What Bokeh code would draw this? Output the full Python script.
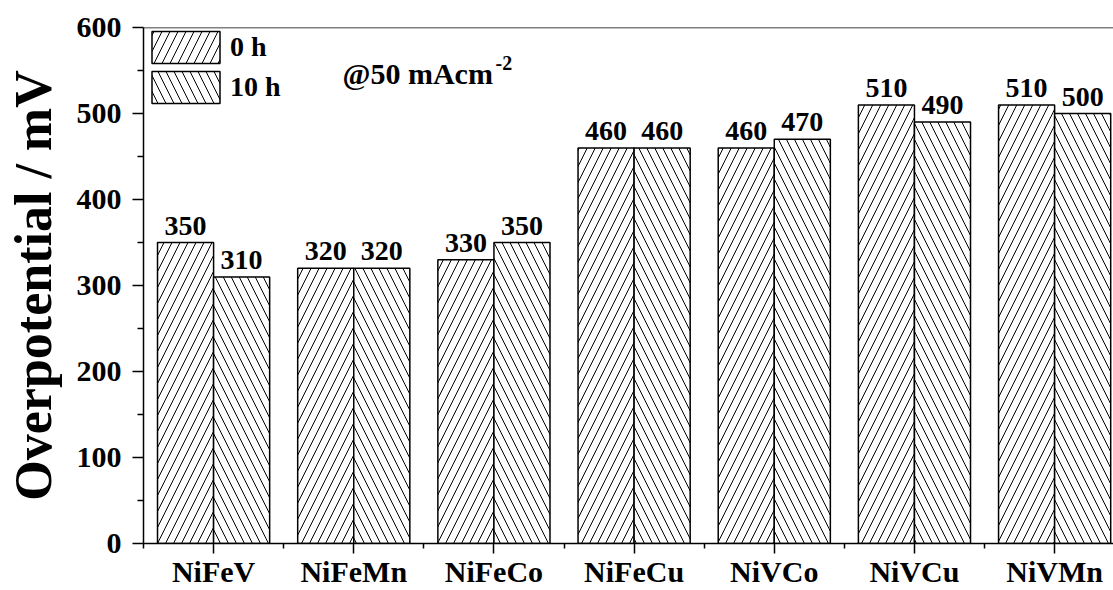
from bokeh.plotting import figure
from bokeh.models import Range1d, FixedTicker, Span, Label, Legend, LegendItem, ColumnDataSource
from bokeh.core.properties import value
from bokeh.embed import file_html
from bokeh.resources import INLINE

# ---- data ----
catalysts = ["NiFeV", "NiFeMn", "NiFeCo", "NiFeCu", "NiVCo", "NiVCu", "NiVMn"]
eta_0h = [350, 320, 330, 460, 460, 510, 510]
eta_10h = [310, 320, 350, 460, 470, 490, 500]
series_labels = ["0 h", "10 h"]
y_ticks = [0, 100, 200, 300, 400, 500, 600]
y_minor = [50, 150, 250, 350, 450, 550]
y_title = "Overpotential / mV"
note_main = "@50 mAcm"
note_sup = "-2"

FONT = "Liberation Serif"
idx = list(range(len(catalysts)))
BAR_W = 0.4

p = figure(width=1113, height=590, output_backend="svg", toolbar_location=None,
           x_range=Range1d(-0.5, 6.42), y_range=Range1d(0, 600),
           min_border_left=143, min_border_top=27, min_border_right=0, min_border_bottom=47)
p.outline_line_color = None
p.xgrid.visible = False
p.ygrid.visible = False
p.background_fill_color = "white"
p.border_fill_color = "white"

src0 = ColumnDataSource(dict(x=[i - BAR_W / 2 for i in idx], top=eta_0h, label=[str(v) for v in eta_0h]))
src1 = ColumnDataSource(dict(x=[i + BAR_W / 2 for i in idx], top=eta_10h, label=[str(v) for v in eta_10h]))

common = dict(width=BAR_W, bottom=0, fill_color="white", line_color="black", line_width=1.5,
              hatch_color="black", hatch_scale=16, hatch_weight=1)
r0 = p.vbar(x="x", top="top", source=src0, hatch_pattern="/", **common)
r1 = p.vbar(x="x", top="top", source=src1, hatch_pattern="\\", **common)

for src in (src0, src1):
    p.text(x="x", y="top", text="label", source=src, text_align="center",
           text_baseline="bottom", y_offset=-8, text_font=value(FONT),
           text_font_style="bold", text_font_size="28px", text_color="black")

# top border
p.add_layout(Span(location=600, dimension="width", line_color="black", line_width=1.5))

# legend
legend = Legend(items=[LegendItem(label=series_labels[0], renderers=[r0]),
                       LegendItem(label=series_labels[1], renderers=[r1])],
                location="top_left", margin=0, padding=3, spacing=0,
                glyph_width=85, glyph_height=40, label_standoff=2,
                label_text_font=FONT, label_text_font_style="bold",
                label_text_font_size="28px", label_text_color="black",
                border_line_color=None, background_fill_alpha=0)
p.add_layout(legend)

# annotation
p.add_layout(Label(x=0.92, y=546, text=note_main, text_font=FONT, text_font_style="bold",
                   text_font_size="30px", text_baseline="alphabetic", text_color="black"))
p.add_layout(Label(x=0.92, y=546, x_offset=153, y_offset=11, text=note_sup, text_font=FONT,
                   text_font_style="bold", text_font_size="20px", text_baseline="alphabetic",
                   text_color="black"))

# axes
p.xaxis.ticker = FixedTicker(ticks=idx, minor_ticks=[i - 0.5 for i in idx])
p.xaxis.major_label_overrides = {i: c for i, c in enumerate(catalysts)}
p.yaxis.ticker = FixedTicker(ticks=y_ticks, minor_ticks=y_minor)
p.yaxis.axis_label = y_title

for ax in (p.xaxis[0], p.yaxis[0]):
    ax.axis_line_color = "black"
    ax.axis_line_width = 1.5
    ax.major_tick_line_color = "black"
    ax.major_tick_line_width = 1.5
    ax.minor_tick_line_color = "black"
    ax.minor_tick_line_width = 1.5
    ax.major_tick_in = 0
    ax.minor_tick_in = 0
    ax.major_label_text_font = FONT
    ax.major_label_text_font_style = "bold"
    ax.major_label_text_color = "black"

p.xaxis.major_tick_out = 10
p.xaxis.minor_tick_out = 5
p.xaxis.major_label_text_font_size = "30px"
p.xaxis.major_label_standoff = 1

p.yaxis.major_tick_out = 11
p.yaxis.minor_tick_out = 6
p.yaxis.major_label_text_font_size = "30px"
p.yaxis.major_label_standoff = 11
p.yaxis.axis_label_text_font = FONT
p.yaxis.axis_label_text_font_style = "bold"
p.yaxis.axis_label_text_font_size = "52px"
p.yaxis.axis_label_text_color = "black"
p.yaxis.axis_label_standoff = 12

open("out.html", "w").write(file_html(p, INLINE))
